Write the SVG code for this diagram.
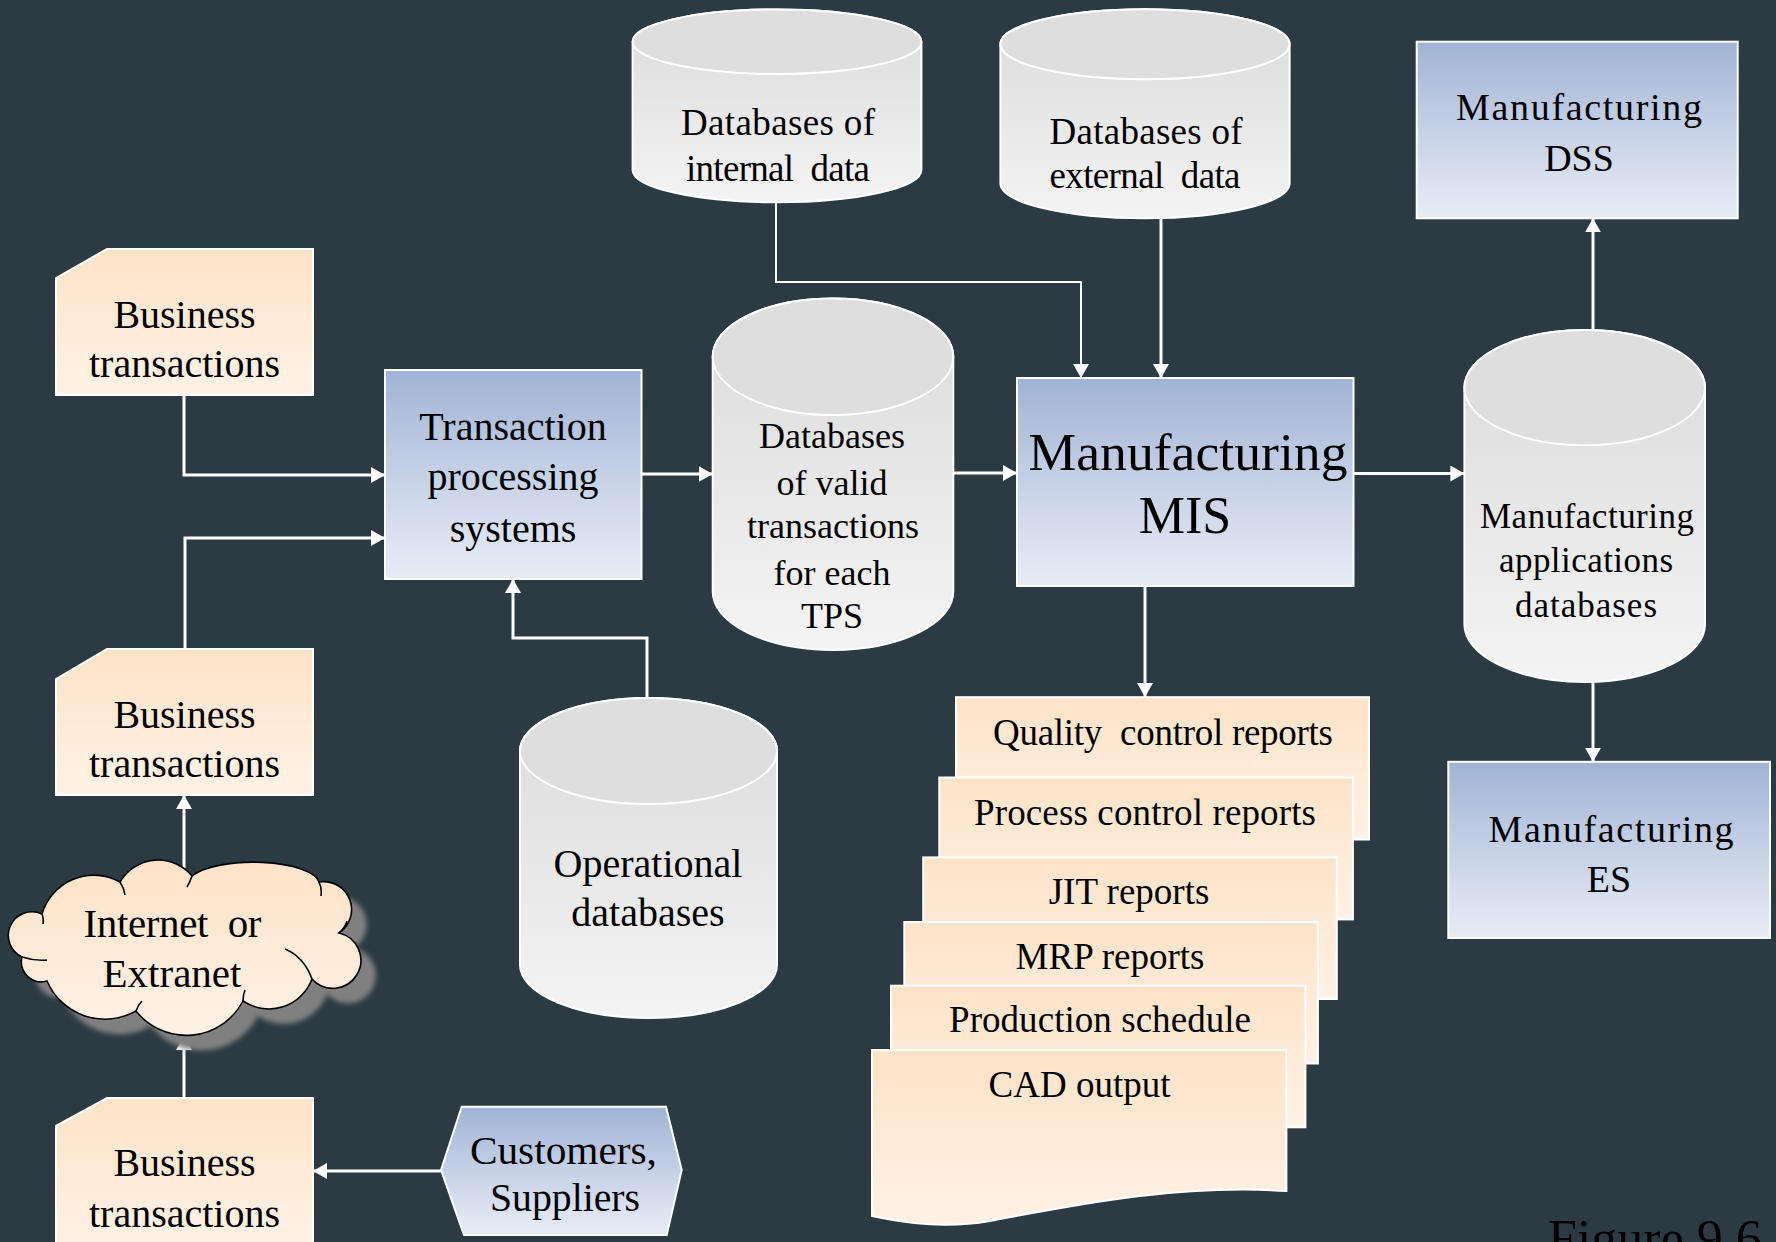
<svg xmlns="http://www.w3.org/2000/svg" width="1776" height="1242" viewBox="0 0 1776 1242">
<style>
.t{font-family:"Liberation Serif","Times New Roman",serif;fill:#000;text-anchor:middle}
.f40{font-size:40px}.f37{font-size:37px}.f36{font-size:36px}.f38{font-size:38px}.f35{font-size:35px}.f41{font-size:41px}.f52{font-size:52px}
.peach{fill:url(#gPeach);stroke:#fff;stroke-width:2}
.blue{fill:url(#gBlue);stroke:#fff;stroke-width:2}
.cylb{fill:url(#gCyl);stroke:#fff;stroke-width:2}
.cylt{fill:#dedede;stroke:#fff;stroke-width:2}
.c{fill:none;stroke:#fff;stroke-width:3;marker-end:url(#ah)}
.thin{stroke-width:2}
</style>
<defs>
<linearGradient id="gPeach" x1="0" y1="0" x2="0" y2="1"><stop offset="0" stop-color="#fde3c8"/><stop offset="1" stop-color="#fff2e6"/></linearGradient>
<linearGradient id="gBlue" x1="0" y1="0" x2="0" y2="1"><stop offset="0" stop-color="#a0b3d5"/><stop offset="0.5" stop-color="#c6d1e6"/><stop offset="1" stop-color="#e8ecf6"/></linearGradient>
<linearGradient id="gCyl" x1="0" y1="0" x2="0" y2="1"><stop offset="0" stop-color="#dadada"/><stop offset="1" stop-color="#f4f4f4"/></linearGradient>
<filter id="blur" x="-10%" y="-10%" width="120%" height="120%"><feGaussianBlur stdDeviation="2.5"/></filter>
<marker id="ah" markerUnits="userSpaceOnUse" markerWidth="14" markerHeight="16" refX="14" refY="8" orient="auto"><path d="M0,0 L14,8 L0,16 Z" fill="#fff"/></marker>
<path id="cloudP" d="M42,914 A54,54 0 0 1 120,882 A44,44 0 0 1 192,876 A66,22 0 0 1 319,882 A28,28 0 0 1 339,933 A28,28 0 1 1 312,979 A46,46 0 0 1 243,1001 A64,64 0 0 1 136,1011 A63,63 0 0 1 47,981 A20,20 0 0 1 22,957 A23,23 0 0 1 42,914 Z"/>
</defs>
<rect x="0" y="0" width="1776" height="1242" fill="#2c3b43"/>

<g id="connectors">
<path class="c" d="M184,395 V475 H385"/>
<path class="c" d="M185,649 V538 H385"/>
<path class="c" d="M647,697 V638 H513 V579"/>
<path class="c" d="M641.5,474 H712.7"/>
<path class="c" d="M953.3,473 H1017"/>
<path class="c thin" d="M776,202 V282 H1081 V378"/>
<path class="c" d="M1161,218 V378"/>
<path class="c" d="M1353.5,473.5 H1464.4"/>
<path class="c" d="M1145,586 V697"/>
<path class="c" d="M1593,330 V218.3"/>
<path class="c" d="M1593,682 V761.8"/>
<path class="c" d="M184,868 V795"/>
<path class="c" d="M184,1098 V1036"/>
<path class="c" d="M441,1171 H313"/>
</g>

<g id="business1">
<path class="peach" d="M56,278 L107,249 H313 V395 H56 Z"/>
<text class="t f40" x="184.5" y="328">Business</text>
<text class="t f40" x="184.5" y="377">transactions</text>
</g>

<g id="business2">
<path class="peach" d="M56,679 L107,649 H313 V795 H56 Z"/>
<text class="t f40" x="184.5" y="728">Business</text>
<text class="t f40" x="184.5" y="777">transactions</text>
</g>

<g id="business3">
<path class="peach" d="M56,1126 L107,1098 H313 V1250 H56 Z"/>
<text class="t f40" x="184.5" y="1176">Business</text>
<text class="t f40" x="184.5" y="1227">transactions</text>
</g>

<g id="tps">
<rect class="blue" x="385" y="370" width="256.5" height="209"/>
<text class="t f40" x="513" y="440">Transaction</text>
<text class="t f40" x="513" y="490">processing</text>
<text class="t f40" x="513" y="542">systems</text>
</g>

<g id="internalDb">
<path class="cylb" d="M632.6,41.7 V170 A144.4,32.3 0 0 0 921.4,170 V41.7 A144.4,32.3 0 0 0 632.6,41.7 Z"/>
<ellipse class="cylt" cx="777" cy="41.7" rx="144.4" ry="32.3"/>
<text class="t f37" x="778" y="135" textLength="194" lengthAdjust="spacing">Databases of</text>
<text class="t f37" x="778" y="181" textLength="184" lengthAdjust="spacing">internal&#160; data</text>
</g>

<g id="externalDb">
<path class="cylb" d="M1000.4,44.3 V183.3 A144.6,35 0 0 0 1289.6,183.3 V44.3 A144.6,35 0 0 0 1000.4,44.3 Z"/>
<ellipse class="cylt" cx="1145" cy="44.3" rx="144.6" ry="35"/>
<text class="t f37" x="1146" y="144" textLength="193" lengthAdjust="spacing">Databases of</text>
<text class="t f37" x="1145" y="188" textLength="191" lengthAdjust="spacing">external&#160; data</text>
</g>

<g id="validDb">
<path class="cylb" d="M712.7,356.7 V591.7 A120.3,58.3 0 0 0 953.3,591.7 V356.7 A120.3,58.3 0 0 0 712.7,356.7 Z"/>
<ellipse class="cylt" cx="833" cy="356.7" rx="120.3" ry="58.3"/>
<text class="t f36" x="832" y="448">Databases</text>
<text class="t f36" x="832" y="495">of valid</text>
<text class="t f36" x="833" y="538">transactions</text>
<text class="t f36" x="832" y="585">for each</text>
<text class="t f36" x="832" y="628">TPS</text>
</g>

<g id="mis">
<rect class="blue" x="1017" y="378" width="336.5" height="208"/>
<text class="t f52" x="1188" y="470" textLength="319" lengthAdjust="spacingAndGlyphs">Manufacturing</text>
<text class="t f52" x="1185" y="533">MIS</text>
</g>

<g id="appDb">
<path class="cylb" d="M1464.4,387.6 V624.4 A120.3,57.6 0 0 0 1705,624.4 V387.6 A120.3,57.6 0 0 0 1464.4,387.6 Z"/>
<ellipse class="cylt" cx="1584.7" cy="387.6" rx="120.3" ry="57.6"/>
<text class="t f35" x="1587" y="527.5" textLength="214" lengthAdjust="spacing">Manufacturing</text>
<text class="t f35" x="1586" y="572" textLength="174" lengthAdjust="spacing">applications</text>
<text class="t f35" x="1586" y="617" textLength="142" lengthAdjust="spacing">databases</text>
</g>

<g id="dss">
<rect class="blue" x="1416.7" y="41.7" width="321" height="176.6"/>
<text class="t f38" x="1579" y="120" textLength="246" lengthAdjust="spacing">Manufacturing</text>
<text class="t f38" x="1579" y="171">DSS</text>
</g>

<g id="es">
<rect class="blue" x="1448.3" y="761.8" width="321.7" height="176.2"/>
<text class="t f38" x="1611" y="842" textLength="245" lengthAdjust="spacing">Manufacturing</text>
<text class="t f38" x="1609" y="892">ES</text>
</g>

<g id="operationalDb">
<path class="cylb" d="M520,751 V965 A128.5,53 0 0 0 777,965 V751 A128.5,53 0 0 0 520,751 Z"/>
<ellipse class="cylt" cx="648.5" cy="751" rx="128.5" ry="53"/>
<text class="t f40" x="648" y="877">Operational</text>
<text class="t f40" x="648" y="926">databases</text>
</g>

<g id="cloud">
<use href="#cloudP" transform="translate(15,15)" fill="#808080" filter="url(#blur)"/>
<use href="#cloudP" fill="url(#gPeach)" stroke="#000" stroke-width="1.6"/>
<path d="M120,882 q4,6 5,13 M192,876 q-2,6 -5,11 M319,882 q3,6 2,14 M339,933 q6,-5 8,-12 M312,979 q-8,-22 -27,-30 M243,1001 q0,-6 2,-11 M136,1011 q2,-6 6,-10 M22,957 q12,4 25,3 M42,914 q2,5 1,10" fill="none" stroke="#000" stroke-width="1.6"/>
<text class="t f41" x="172.5" y="937" textLength="178" lengthAdjust="spacing">Internet&#160; or</text>
<text class="t f41" x="172" y="987">Extranet</text>
</g>

<g id="customers">
<path class="blue" d="M441,1170 L461.7,1106.7 H666 L681.7,1170 L666.7,1235 H464 Z"/>
<text class="t f41" x="563.4" y="1163.5" textLength="187" lengthAdjust="spacingAndGlyphs">Customers,</text>
<text class="t f41" x="565" y="1211" textLength="150" lengthAdjust="spacingAndGlyphs">Suppliers</text>
</g>

<g id="reports">
<g id="rQuality">
<rect class="peach" x="956" y="697.2" width="413" height="142.3"/>
<text class="t f37" x="1163" y="744.5" textLength="340" lengthAdjust="spacing">Quality&#160; control reports</text>
</g>
<g id="rProcess">
<rect class="peach" x="939.3" y="777.5" width="413.6" height="141.9"/>
<text class="t f37" x="1145" y="825" textLength="342" lengthAdjust="spacing">Process control reports</text>
</g>
<g id="rJIT">
<rect class="peach" x="923.2" y="857.4" width="413.6" height="141.6"/>
<text class="t f37" x="1129" y="904">JIT reports</text>
</g>
<g id="rMRP">
<rect class="peach" x="904.3" y="922" width="413.6" height="141.5"/>
<text class="t f37" x="1110" y="968.5">MRP reports</text>
</g>
<g id="rProduction">
<rect class="peach" x="891" y="985.7" width="414.4" height="141.6"/>
<text class="t f37" x="1100" y="1032" textLength="302" lengthAdjust="spacing">Production schedule</text>
</g>
<g id="rCAD">
<path class="peach" d="M872,1050 H1286.4 V1191 C1180,1184 1080,1204 990,1221 C945,1229 905,1223 872,1216 Z"/>
<text class="t f37" x="1079.5" y="1096.5">CAD output</text>
</g>
</g>

<text class="t f52" x="1548" y="1256" style="text-anchor:start">Figure 9.6</text>
</svg>
